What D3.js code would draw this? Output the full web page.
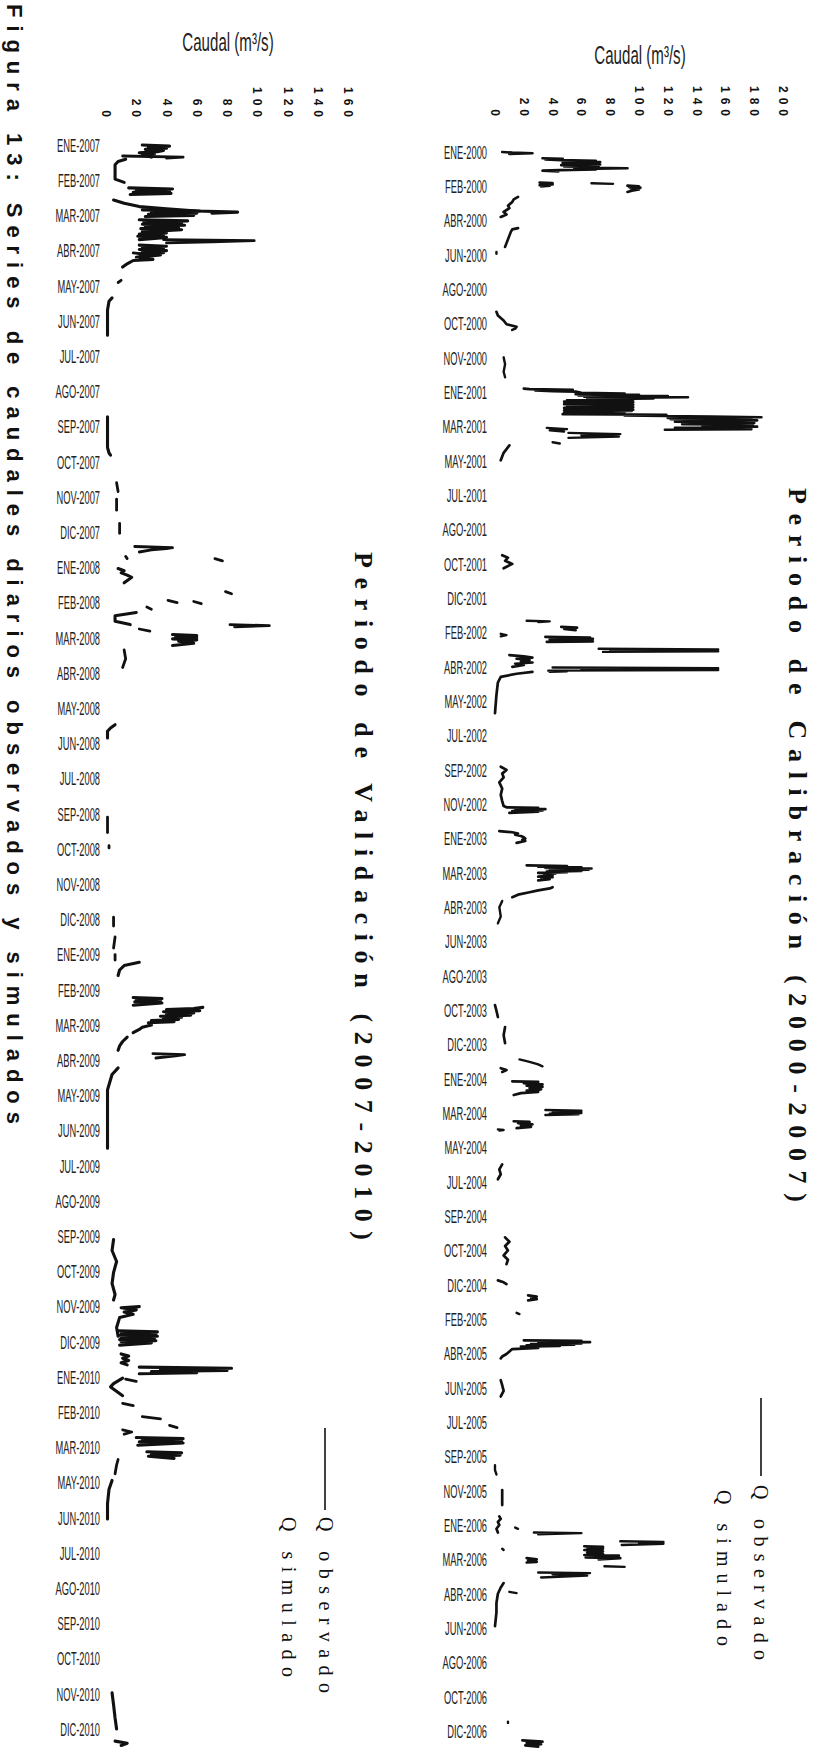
<!DOCTYPE html>
<html>
<head>
<meta charset="utf-8">
<script src="https://cdn.jsdelivr.net/npm/d3@7"></script>
<style>
  body { margin: 0; background: #fff; }
  svg { display: block; }
</style>
</head>
<body>
<svg id="fig" width="813" height="1749"></svg>
<script>
// ---- Category labels along the time axis (one every 55 days / 32 days) ----
const calLabels = ["ENE-2000","FEB-2000","ABR-2000","JUN-2000","AGO-2000","OCT-2000","NOV-2000",
  "ENE-2001","MAR-2001","MAY-2001","JUL-2001","AGO-2001","OCT-2001","DIC-2001",
  "FEB-2002","ABR-2002","MAY-2002","JUL-2002","SEP-2002","NOV-2002",
  "ENE-2003","MAR-2003","ABR-2003","JUN-2003","AGO-2003","OCT-2003","DIC-2003",
  "ENE-2004","MAR-2004","MAY-2004","JUL-2004","SEP-2004","OCT-2004","DIC-2004",
  "FEB-2005","ABR-2005","JUN-2005","JUL-2005","SEP-2005","NOV-2005",
  "ENE-2006","MAR-2006","ABR-2006","JUN-2006","AGO-2006","OCT-2006","DIC-2006"];
const valLabels = ["ENE-2007","FEB-2007","MAR-2007","ABR-2007","MAY-2007","JUN-2007","JUL-2007","AGO-2007",
  "SEP-2007","OCT-2007","NOV-2007","DIC-2007",
  "ENE-2008","FEB-2008","MAR-2008","ABR-2008","MAY-2008","JUN-2008","JUL-2008","SEP-2008","OCT-2008","NOV-2008","DIC-2008",
  "ENE-2009","FEB-2009","MAR-2009","ABR-2009","MAY-2009","JUN-2009","JUL-2009","AGO-2009","SEP-2009","OCT-2009","NOV-2009","DIC-2009",
  "ENE-2010","FEB-2010","MAR-2010","MAY-2010","JUN-2010","JUL-2010","AGO-2010","SEP-2010","OCT-2010","NOV-2010","DIC-2010"];
const calLabelStep = 55;   // days between consecutive labels, 2000-2007
const valLabelStep = 32;   // days between consecutive labels, 2007-2010

// ---- Flow axis ticks (m3/s) ----
const calTicks = [0,20,40,60,80,100,120,140,160,180,200];
const valTicks = [0,20,40,60,80,100,120,140,160];

// ---- Daily flows: segments of [day since 1 Jan, Q m3/s] ----
const obsCal = [
  [[0,5],[1,12],[2,26],[3,10]],
  [[10,33],[11,47],[12,35],[13,46],[14,70],[15,48],[16,73],[17,47],[18,72],[19,50],[20,73],[21,46],[22,70],[23,48],[24,72],[25,55],[26,92],[27,60],[28,70],[29,45],[30,33],[31,44]],
  [[49,31],[50,40],[51,33],[52,40],[53,31],[54,38],[55,32]],
  [[54,92],[55,100],[56,93],[57,101],[58,94],[60,100],[62,95],[64,92]],
  [[72,16],[76,13],[80,12],[86,9],[90,10],[96,6],[100,8],[104,4]],
  [[122,16],[124,12],[128,11],[134,10],[140,9],[146,8],[152,7]],
  [[256,1],[262,2],[270,6],[276,8],[280,15],[283,14],[285,12]],
  [[379,20],[380,24],[381,54],[382,28],[383,40],[384,56],[386,60],[387,90],[388,56],[389,100],[390,58],[391,120],[392,62],[393,134],[394,64],[395,110],[396,70],[397,96],[398,50],[399,95],[400,48],[401,96],[402,50],[403,95],[404,48],[405,96],[406,52],[407,94],[408,50],[409,96],[410,48],[411,94],[412,50],[413,96],[414,48],[415,95],[416,50],[417,90],[418,48],[419,88],[420,47],[421,119],[422,90],[423,118],[424,150],[425,185],[426,120],[427,178],[428,122],[430,182],[432,125],[434,180],[436,130],[437,179],[438,144],[440,182],[442,125],[444,178],[445,118]],
  [[470,10],[476,8],[482,6],[488,5],[494,4]],
  [[646,5],[650,9],[655,7],[660,12],[667,6]],
  [[761,46],[762,57],[764,48],[766,56]],
  [[777,35],[778,66],[779,40],[780,68],[781,38],[782,66],[783,40],[784,68],[785,36]],
  [[806,10],[808,20],[810,26],[812,15],[814,24],[816,18],[818,26],[820,14],[822,20],[825,12]],
  [[833,26],[836,15],[841,4],[850,2],[870,1],[899,0]],
  [[985,4],[990,8],[996,5],[1002,6],[1010,3],[1020,5],[1030,4],[1040,5],[1048,6],[1050,8],[1051,30],[1052,14],[1053,35],[1054,16],[1055,33],[1056,12],[1057,30],[1059,10]],
  [[1088,3],[1090,12],[1092,16],[1094,14],[1096,18],[1098,20],[1100,21],[1102,19],[1104,21],[1107,15]],
  [[1143,22],[1144,50],[1145,30],[1146,60],[1147,35],[1148,67],[1149,40],[1150,65],[1151,38],[1152,60],[1153,36],[1154,50],[1155,30],[1156,42],[1157,34],[1159,40],[1161,30],[1162,40],[1163,32],[1165,38],[1167,30]],
  [[1178,40],[1180,38],[1183,30],[1186,24],[1190,16],[1194,12]],
  [[1367,0],[1376,1],[1386,2]],
  [[1402,7],[1415,6],[1428,7]],
  [[1468,4],[1471,8],[1474,5]],
  [[1489,12],[1490,30],[1492,20],[1494,33],[1496,22],[1498,33],[1500,24],[1502,32],[1504,22],[1506,30],[1508,18],[1511,13]],
  [[1553,13],[1554,24],[1556,16],[1558,26],[1560,18],[1562,25],[1564,15]],
  [[1622,5],[1630,3],[1638,4],[1646,2]],
  [[1739,7],[1746,10],[1753,7],[1760,9],[1768,6],[1775,9],[1782,8]],
  [[1808,2],[1811,6],[1814,8]],
  [[1832,23],[1834,29],[1836,25],[1838,29],[1840,23]],
  [[1904,20],[1905,60],[1906,30],[1907,66],[1908,35],[1909,60],[1910,25],[1911,55],[1912,22],[1913,45],[1914,18],[1916,30],[1918,12],[1922,10],[1926,8],[1930,5],[1933,4]],
  [[1968,4],[1976,5],[1985,6],[1994,4]],
  [[2144,5],[2156,5],[2168,5]],
  [[2186,3],[2190,4],[2195,2],[2200,3],[2206,1],[2212,2]],
  [[2234,62],[2235,75],[2236,64],[2238,75],[2240,62],[2242,75],[2244,64],[2246,75],[2248,62],[2249,86],[2250,74],[2251,78],[2252,63],[2253,87],[2255,72]],
  [[2253,22],[2255,29],[2257,23],[2259,29],[2260,22]],
  [[2293,6],[2300,4],[2310,2],[2325,1],[2340,1],[2362,0]],
  [[2545,19],[2547,33],[2549,22],[2551,32],[2553,21],[2555,30]]
];
const simCal = [
  [[50,67],[51,82]],
  [[160,1],[163,1]],
  [[329,6],[340,7],[352,6],[361,7]],
  [[442,36],[444,50],[446,38],[448,48]],
  [[450,51],[452,87],[454,60],[456,86],[458,51]],
  [[465,40],[467,45]],
  [[751,22],[752,38],[753,30]],
  [[772,4],[774,8],[776,4]],
  [[796,72],[797,155],[798,150],[799,80],[800,155],[801,75]],
  [[826,40],[827,155],[828,150],[829,60],[830,155],[831,37],[832,50],[833,38]],
  [[1200,5],[1210,3],[1225,4],[1236,2]],
  [[1454,17],[1458,24],[1462,30],[1465,33]],
  [[1535,35],[1536,60],[1537,45],[1538,60],[1539,40],[1540,60],[1541,38],[1542,58],[1543,35]],
  [[1566,2],[1567,6],[1568,3]],
  [[1860,15],[1862,17]],
  [[2104,0],[2112,0],[2119,1]],
  [[2204,14],[2206,16]],
  [[2212,27],[2213,60],[2215,30]],
  [[2226,87],[2227,117],[2229,100],[2230,117],[2232,88]],
  [[2238,5],[2240,6]],
  [[2266,76],[2267,90]],
  [[2276,30],[2277,66],[2279,40],[2281,64],[2284,32]],
  [[2307,10],[2309,15]],
  [[2515,9],[2517,9]]
];
const obsVal = [
  [[0,24],[1,42],[2,28],[3,40],[4,26],[5,38],[6,34],[7,22],[8,32],[9,24],[11,30]],
  [[13,13],[15,8],[18,6],[25,6],[31,6],[34,12]],
  [[39,15],[40,44],[41,20],[42,42],[43,18],[44,43],[45,16]],
  [[50,5],[53,12],[56,22],[58,40],[60,60],[61,87],[62,70]],
  [[59,24],[60,62],[61,30],[62,60],[63,28],[64,58],[65,26]],
  [[68,22],[69,54],[70,25],[71,50],[72,24],[73,52],[74,26],[75,48],[76,23],[77,50],[79,24],[80,40],[81,22],[82,38],[83,21],[84,40],[86,22]],
  [[91,22],[92,40],[93,24],[94,38],[95,22],[96,40],[97,24],[98,38],[99,22],[100,36],[102,22],[104,31],[105,18],[108,14],[111,11]],
  [[139,4],[142,2],[150,1],[160,1],[173,1]],
  [[247,1],[260,1],[275,1],[280,2],[282,3]],
  [[385,8],[387,12],[389,10],[391,14],[393,17],[395,15],[398,12]],
  [[425,20],[428,6],[433,6],[436,16]],
  [[445,44],[446,60],[447,46],[448,60],[449,44],[450,60],[451,48],[453,58],[455,44]],
  [[527,6],[530,3],[533,1],[539,1]],
  [[743,22],[746,12],[750,9],[755,8]],
  [[775,18],[776,37],[777,20],[778,36],[779,19],[780,37],[782,18]],
  [[784,64],[785,58],[786,40],[787,62],[788,38],[789,58],[790,40],[791,56],[792,36],[793,50],[794,38],[795,48],[796,30],[797,45],[798,28],[800,30],[802,24],[804,22],[807,18]],
  [[811,14],[815,11],[819,9],[823,8]],
  [[839,8],[845,4],[859,1],[880,1],[912,1]],
  [[995,5],[1005,4],[1015,7],[1025,5],[1035,4],[1045,6],[1050,5]],
  [[1056,22],[1057,10],[1059,20],[1061,12],[1063,18],[1066,9],[1075,7],[1083,8]],
  [[1078,8],[1079,34],[1080,10],[1081,33],[1082,9],[1083,34],[1084,10],[1085,32],[1086,9],[1087,33],[1088,10],[1089,30],[1091,9]],
  [[1099,10],[1101,15],[1103,11],[1105,15],[1107,10],[1109,14]],
  [[1111,22],[1112,83],[1113,36],[1114,80],[1115,30],[1116,60],[1117,22]],
  [[1121,11],[1126,5],[1129,3],[1132,6],[1137,11]],
  [[1175,20],[1176,51],[1177,24],[1178,50],[1179,22],[1180,51],[1182,21]],
  [[1188,27],[1189,50],[1190,30],[1191,49],[1192,28],[1194,45]],
  [[1214,4],[1222,2],[1235,1],[1249,1]],
  [[1407,4],[1418,5],[1430,6],[1440,7]],
  [[1451,6],[1453,14],[1455,10]]
];
const simVal = [
  [[10,11],[11,51],[12,40]],
  [[86,38],[87,98],[88,70],[89,40]],
  [[98,18],[100,30],[102,20]],
  [[123,10],[125,8]],
  [[307,7],[315,8]],
  [[322,7],[332,7]],
  [[344,9],[353,9]],
  [[365,19],[366,44],[367,40],[368,30],[370,22]],
  [[374,13],[376,14]],
  [[376,72],[378,77]],
  [[406,79],[408,83]],
  [[414,41],[416,47]],
  [[415,58],[417,63]],
  [[420,27],[422,30]],
  [[436,82],[437,108],[438,85]],
  [[440,22],[442,29]],
  [[459,12],[467,13],[475,11]],
  [[611,1],[625,1]],
  [[637,2],[639,2]],
  [[702,5],[710,5]],
  [[720,6],[730,5]],
  [[736,6],[741,6]],
  [[826,31],[827,52],[828,46],[830,33]],
  [[1122,13],[1124,20]],
  [[1144,11],[1146,18]],
  [[1156,24],[1158,36]],
  [[1164,42],[1166,47]],
  [[1168,11],[1170,17],[1172,12]],
  [[1195,8],[1200,7],[1208,6]]
];

// ---- Text ----
const caption = "Figura 13: Series de caudales diarios observados y simulados";
const calTitle = "Periodo de Calibración (2000-2007)";
const valTitle = "Periodo de Validación (2007-2010)";
const axisTitle = "Caudal (m³/s)";
const legendNames = ["Q observado", "Q simulado"];

const svg = d3.select("#fig");
const INK = "#111";
const SANS = "'Liberation Sans', Arial, sans-serif";
const SERIF = "'Liberation Serif', 'Times New Roman', serif";

// Rotated text reading top to bottom, centred on x
function vtext(parent, x, y, str, opts) {
  const t = parent.append("text")
    .attr("transform", `translate(${x},${y}) rotate(90)`)
    .attr("dominant-baseline", "central")
    .attr("font-family", opts.family)
    .attr("font-size", opts.size)
    .attr("font-weight", opts.weight || "normal")
    .attr("fill", INK)
    .text(str);
  if (opts.length) t.attr("textLength", opts.length).attr("lengthAdjust", "spacing");
  return t;
}

function panel(cfg) {
  const g = svg.append("g");
  const y = d3.scaleLinear()
    .domain([0, cfg.labelStep * (cfg.labels.length - 1)])
    .range(cfg.yRange);
  const x = d3.scaleLinear().domain([0, cfg.vMax]).range(cfg.xRange);

  // flow ticks, rotated
  g.append("g").selectAll("text").data(cfg.ticks).join("text")
    .attr("transform", d => `translate(${x(d)},${cfg.tickEnd}) rotate(90)`)
    .attr("text-anchor", "end")
    .attr("dominant-baseline", "central")
    .attr("font-family", SANS).attr("font-weight", "bold").attr("font-size", 12)
    .attr("letter-spacing", 5)
    .attr("fill", INK)
    .text(d => d);

  // axis title
  g.append("text")
    .attr("transform", `translate(${cfg.titlePos[0]},${cfg.titlePos[1]}) scale(0.58,1)`)
    .attr("text-anchor", "middle").attr("dy", "0.35em")
    .attr("font-family", SANS).attr("font-size", 26).attr("fill", "#222")
    .text(axisTitle);

  // date labels
  g.append("g").selectAll("text").data(cfg.labels).join("text")
    .attr("transform", (d, i) => `translate(${cfg.labelRight},${y(i * cfg.labelStep)}) scale(0.49,1)`)
    .attr("text-anchor", "end").attr("dy", "0.36em")
    .attr("font-family", SANS).attr("font-size", 19).attr("fill", "#222")
    .text(d => d);

  const line = d3.line().x(d => x(d[1])).y(d => y(d[0]));
  g.append("g").selectAll("path").data(cfg.sim).join("path")
    .attr("d", line).attr("fill", "none").attr("stroke", INK)
    .attr("stroke-width", cfg.stroke - 0.3).attr("stroke-linejoin", "round").attr("stroke-linecap", "round");
  g.append("g").selectAll("path").data(cfg.obs).join("path")
    .attr("d", line).attr("fill", "none").attr("stroke", INK)
    .attr("stroke-width", cfg.stroke).attr("stroke-linejoin", "round").attr("stroke-linecap", "round");

  // period title
  vtext(g, cfg.periodPos[0], cfg.periodPos[1], cfg.period,
    { family: SERIF, size: 26, weight: "bold", length: cfg.periodLen });

  // legend
  const L = cfg.legend;
  g.append("line")
    .attr("x1", L.lineX).attr("x2", L.lineX)
    .attr("y1", L.lineY[0]).attr("y2", L.lineY[1])
    .attr("stroke", INK).attr("stroke-width", 1.6);
  vtext(g, L.obsX, L.obsY, legendNames[0], { family: SERIF, size: 20, length: L.obsLen });
  vtext(g, L.simX, L.simY, legendNames[1], { family: SERIF, size: 20, length: L.simLen });
}

panel({
  labels: calLabels, labelStep: calLabelStep, yRange: [152, 1731],
  vMax: 200, xRange: [495, 783], ticks: calTicks, tickEnd: 121,
  labelRight: 487, titlePos: [640, 55], stroke: 2.7,
  obs: obsCal, sim: simCal,
  period: calTitle, periodPos: [797, 488], periodLen: 714,
  legend: { lineX: 761, lineY: [1398, 1476], obsX: 761, obsY: 1485, obsLen: 175,
            simX: 724, simY: 1490, simLen: 156 }
});

panel({
  labels: valLabels, labelStep: valLabelStep, yRange: [145, 1729],
  vMax: 160, xRange: [106, 348], ticks: valTicks, tickEnd: 122,
  labelRight: 100, titlePos: [228, 42], stroke: 3.1,
  obs: obsVal, sim: simVal,
  period: valTitle, periodPos: [363, 552], periodLen: 688,
  legend: { lineX: 325, lineY: [1428, 1510], obsX: 326, obsY: 1517, obsLen: 176,
            simX: 289, simY: 1517, simLen: 160 }
});

// figure caption along the left edge
vtext(svg, 14, 4, caption, { family: SANS, size: 22, weight: "bold", length: 1120 });
</script>
</body>
</html>
